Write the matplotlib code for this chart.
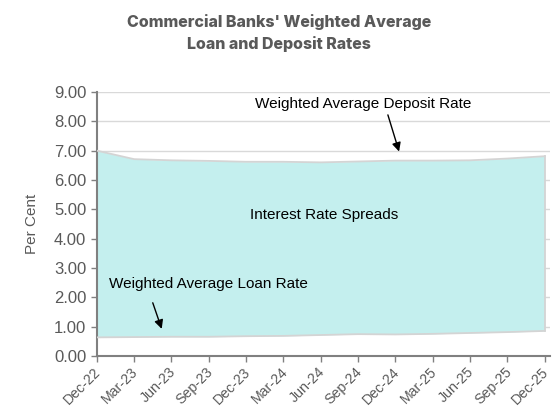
import matplotlib
matplotlib.use("Agg")
import matplotlib.pyplot as plt
from matplotlib.transforms import ScaledTranslation

# quarterly points, Dec-22 .. Dec-25
quarters = ["Dec-22", "Mar-23", "Jun-23", "Sep-23", "Dec-23", "Mar-24", "Jun-24",
            "Sep-24", "Dec-24", "Mar-25", "Jun-25", "Sep-25", "Dec-25"]
upper_rate = [7.00, 6.71, 6.67, 6.65, 6.62, 6.62, 6.60, 6.63, 6.66, 6.66, 6.67, 6.73, 6.81]
lower_rate = [0.63, 0.64, 0.65, 0.65, 0.67, 0.68, 0.71, 0.74, 0.73, 0.75, 0.78, 0.81, 0.85]
yticks = [0, 1, 2, 3, 4, 5, 6, 7, 8, 9]

GRAY = "#595959"
plt.rcParams["font.family"] = ["Liberation Sans", "DejaVu Sans"]

fig = plt.figure(figsize=(5.53, 4.09), dpi=100)
ax = fig.add_axes([0.175, 0.13, 0.82, 0.645])

x = list(range(len(quarters)))
ax.fill_between(x, lower_rate, upper_rate, color="#c4efee", lw=0, zorder=2)
ax.plot(x, upper_rate, color="#d4d4d4", lw=1.3, zorder=3)
ax.plot(x, lower_rate, color="#d4d4d4", lw=1.3, zorder=3)
ax.plot([x[-1], x[-1]], [lower_rate[-1], upper_rate[-1]], color="#d4d4d4", lw=1.3, zorder=3)

ax.set_xlim(0, len(quarters) - 1 + 0.15)
ax.set_ylim(0, 9)
ax.set_yticks(yticks)
ax.set_yticklabels([f"{v:.2f}" for v in yticks])
ax.grid(axis="y", color="#d9d9d9", lw=1, zorder=1)
ax.set_axisbelow(True)

for s in ["top", "right"]:
    ax.spines[s].set_visible(False)
for s in ["left", "bottom"]:
    ax.spines[s].set_color("#808080")
    ax.spines[s].set_linewidth(1.5)
ax.tick_params(axis="both", colors="#808080", width=1, length=4)
ax.tick_params(axis="y", labelcolor=GRAY, labelsize=12)
ax.tick_params(axis="x", labelcolor=GRAY, labelsize=10.2, pad=1)

# x labels: rotated, ending just right of the tick and a bit lower
ax.set_xticks(x)
ax.set_xticklabels(quarters, rotation=45, ha="right", va="center", rotation_mode="anchor")
shift = ScaledTranslation(2 / 100, -7 / 100, fig.dpi_scale_trans)
for lbl in ax.get_xticklabels():
    lbl.set_transform(lbl.get_transform() + shift)

ax.set_ylabel("Per Cent", color=GRAY, fontsize=11, labelpad=11)

fig.suptitle("Commercial Banks' Weighted Average\nLoan and Deposit Rates",
             x=0.505, y=0.965, fontsize=11.5, fontweight="heavy", color=GRAY,
             family=["Inter", "DejaVu Sans"], linespacing=1.45)

arrow = dict(arrowstyle="-|>", color="black", lw=1, shrinkA=0, shrinkB=0,
             mutation_scale=13)
ax.text(7.15, 8.59, "Weighted Average Deposit Rate", ha="center", va="center",
        fontsize=11, zorder=5)
ax.annotate("", xy=(8.10, 6.97), xytext=(7.80, 8.22), arrowprops=arrow, zorder=5)
ax.text(0.34, 2.45, "Weighted Average Loan Rate", ha="left", va="center",
        fontsize=11, zorder=5)
ax.annotate("", xy=(1.74, 0.92), xytext=(1.50, 1.81), arrowprops=arrow, zorder=5)
ax.text(6.1, 4.81, "Interest Rate Spreads", ha="center", va="center", fontsize=11, zorder=5)

fig.savefig("out.png", dpi=100)
